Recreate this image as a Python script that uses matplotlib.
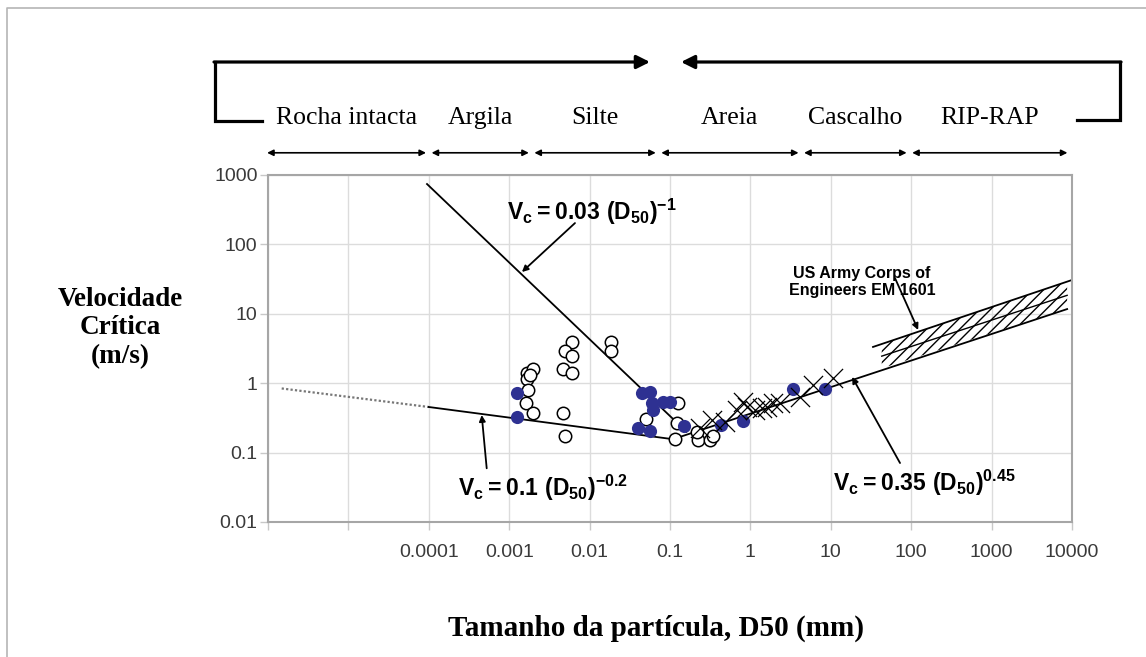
import numpy as np
import matplotlib
matplotlib.use('Agg')
import matplotlib.pyplot as plt
from matplotlib.lines import Line2D
from matplotlib.transforms import blended_transform_factory

W, H = 1146, 657
plt.rcParams['mathtext.fontset'] = 'custom'
plt.rcParams['mathtext.rm'] = 'Liberation Sans'
plt.rcParams['mathtext.bf'] = 'Liberation Sans:bold'
plt.rcParams['hatch.linewidth'] = 1.0

# classes granulometricas e seus limites (mm)
classes = ['Rocha intacta', 'Argila', 'Silte', 'Areia', 'Cascalho', 'RIP-RAP']
limites = [9e-7, 1e-4, 1.9e-3, 0.072, 4.3, 95, 9.5e3]

# retas de velocidade critica: D50 (mm) x Vc (m/s)
reta_menos1_D = [9.5e-5, 0.16]
reta_menos1_V = [741, 0.2]
reta_pont_D = [1.48e-6, 1e-4]
reta_pont_V = [0.84, 0.454]
reta_menos02_D = [1e-4, 0.109]
reta_menos02_V = [0.454, 0.156]
reta_045_D = [0.109, 8700]
reta_045_V = [0.156, 11.7]

# faixa US Army Corps of Engineers EM 1601
faixa_D = [43, 8700]
faixa_inf = [1.64, 11.7]
faixa_sup = [3.67, 29.1]
borda_sup_D = [33.5, 1e4]
borda_sup_V = [3.33, 30.7]

# ensaios
aberto_D = [0.00165, 0.0020, 0.00165, 0.0018, 0.00173, 0.00162, 0.0020,
            0.0060, 0.0049, 0.0060, 0.0047, 0.0060, 0.0047, 0.0049,
            0.0183, 0.0183, 0.127, 0.050, 0.121, 0.115, 0.225, 0.315,
            0.215, 0.346]
aberto_V = [1.42, 1.58, 1.14, 1.3, 0.80, 0.52, 0.376,
            3.96, 2.94, 2.46, 1.58, 1.39, 0.376, 0.173,
            3.96, 2.94, 0.52, 0.302, 0.264, 0.156, 0.152, 0.152,
            0.20, 0.173]
cheio_D = [0.00124, 0.00126, 0.0445, 0.0564, 0.0592, 0.0826, 0.1, 0.0619,
           0.0404, 0.0564, 0.149, 0.429, 0.81, 3.42, 8.36]
cheio_V = [0.715, 0.33, 0.715, 0.755, 0.513, 0.541, 0.541, 0.411,
           0.224, 0.205, 0.245, 0.25, 0.29, 0.817, 0.817]
cruz_D = [0.236, 0.333, 0.483, 0.676, 0.817, 0.90, 1.14, 1.38, 1.60,
          1.93, 2.33, 4.14, 6.05, 10.7]
cruz_V = [0.226, 0.295, 0.279, 0.411, 0.541, 0.458, 0.411, 0.435, 0.458,
          0.513, 0.513, 0.638, 0.94, 1.2]

xticks = [10.0 ** k for k in range(-6, 5)]
xlabels = ['', '', '0.0001', '0.001', '0.01', '0.1', '1', '10', '100', '1000', '10000']
yticks = [0.01, 0.1, 1, 10, 100, 1000]
ylabels = ['0.01', '0.1', '1', '10', '100', '1000']

fig = plt.figure(figsize=(W / 100, H / 100), dpi=100)
ax = fig.add_axes([268 / W, 135 / H, 804 / W, 347 / H])
ax.set_xscale('log')
ax.set_yscale('log')
ax.set_xlim(1e-6, 1e4)
ax.set_ylim(0.01, 1000)
ax.set_xticks(xticks)
ax.set_xticklabels(xlabels)
ax.set_yticks(yticks)
ax.set_yticklabels(ylabels)
ax.minorticks_off()
ax.grid(True, color='#dcdcdc', lw=1)
ax.set_axisbelow(True)
for s in ax.spines.values():
    s.set_color('#a6a6a6')
    s.set_linewidth(1.5)
ax.tick_params(length=6, width=1, color='#c8c8c8', labelsize=14,
               labelcolor='#3a3a3a', labelfontfamily='Liberation Sans')
ax.tick_params(axis='x', pad=10)
ax.tick_params(axis='y', pad=1.5)

# retas
ax.plot(reta_menos1_D, reta_menos1_V, color='black', lw=1.3, zorder=2)
ax.plot(reta_pont_D, reta_pont_V, color='#777777', lw=1.6, ls=(0, (1, 1)), zorder=2)
ax.plot(reta_menos02_D, reta_menos02_V, color='black', lw=1.3, zorder=2)
ax.plot(reta_045_D, reta_045_V, color='black', lw=1.3, zorder=2)

# faixa hachurada
poly_D = faixa_D + faixa_D[::-1]
poly_V = faixa_inf + faixa_sup[::-1]
ax.fill(poly_D, poly_V, facecolor='none', edgecolor='black', hatch='///', lw=0, zorder=2)
ax.plot(borda_sup_D, borda_sup_V, color='black', lw=1.3, zorder=2)
ax.plot(faixa_D, np.sqrt(np.array(faixa_inf) * np.array(faixa_sup)), color='black', lw=1.0, zorder=2)

# pontos
ax.scatter(aberto_D, aberto_V, s=80, facecolor='white', edgecolor='black', lw=1.1, zorder=3)
ax.scatter(cheio_D, cheio_V, s=90, color='#2e3192', lw=0, zorder=4)
ax.scatter(cruz_D, cruz_V, s=190, marker='x', color='black', lw=0.9, zorder=5)

# equacoes e setas
eq_kw = dict(fontsize=16.5, ha='left', va='center', zorder=6)
ax.text(9.4e-4, 293, r'$\mathbf{V_c = 0.03\ (D_{50})^{-1}}$', **eq_kw)
ax.text(2.3e-4, 0.031, r'$\mathbf{V_c = 0.1\ (D_{50})^{-0.2}}$', **eq_kw)
ax.text(10.6, 0.0365, r'$\mathbf{V_c = 0.35\ (D_{50})^{0.45}}$', **eq_kw)
ax.text(24.4, 28.7, 'US Army Corps of\nEngineers EM 1601', fontsize=11.5,
        fontweight='bold', fontfamily='Liberation Sans', ha='center', va='center',
        linespacing=1.15, zorder=6)
seta = dict(arrowstyle='-|>', color='black', lw=1.3, mutation_scale=9, shrinkA=0, shrinkB=0)
ax.annotate('', xy=(1.44e-3, 40), xytext=(6.58e-3, 203), arrowprops=seta)
ax.annotate('', xy=(4.55e-4, 0.348), xytext=(5.25e-4, 0.0594), arrowprops=seta)
ax.annotate('', xy=(18.4, 1.23), xytext=(72.6, 0.0708), arrowprops=seta)
ax.annotate('', xy=(122, 5.85), xytext=(62.8, 32.8), arrowprops=seta)

# faixas granulometricas acima do grafico
trans = blended_transform_factory(ax.transData, ax.transAxes)
for nome, a, b in zip(classes, limites[:-1], limites[1:]):
    ax.annotate('', xy=(b, 1.064), xytext=(a, 1.064), xycoords=trans, textcoords=trans,
                arrowprops=dict(arrowstyle='<|-|>', color='black', lw=1.2,
                                mutation_scale=9, shrinkA=2, shrinkB=2),
                annotation_clip=False)
    ax.text(np.sqrt(a * b), 1.164, nome, transform=trans, ha='center', va='center',
            fontfamily='Liberation Serif', fontsize=18.5)


def px(x, y):
    return (x / W, 1 - y / H)


# colchete superior
def linha(pts, **kw):
    xs, ys = zip(*[px(x, y) for x, y in pts])
    fig.add_artist(Line2D(xs, ys, transform=fig.transFigure, **kw))


linha([(262, 121), (215, 121), (215, 62)], color='black', lw=2.3, solid_joinstyle='miter')
linha([(1077, 120), (1120, 120), (1120, 62)], color='black', lw=2.3, solid_joinstyle='miter')
grossa = dict(arrowstyle='-|>', color='black', lw=2.3, mutation_scale=20, shrinkA=0, shrinkB=0)
fig.add_artist(plt.Annotation('', xy=px(650, 62), xytext=px(214, 62),
                              xycoords='figure fraction', textcoords='figure fraction',
                              arrowprops=grossa))
fig.add_artist(plt.Annotation('', xy=px(681, 62), xytext=px(1121, 62),
                              xycoords='figure fraction', textcoords='figure fraction',
                              arrowprops=grossa))

# moldura
linha([(7, 657), (7, 8), (1146, 8)], color='#b5b5b5', lw=1.2)

fig.text(*px(120, 328), 'Velocidade\nCrítica\n(m/s)', ha='center', va='center',
         fontfamily='Liberation Serif', fontweight='bold', fontsize=19.5, linespacing=1.2)
fig.text(*px(656, 628), 'Tamanho da partícula, D50 (mm)', ha='center', va='center',
         fontfamily='Liberation Serif', fontweight='bold', fontsize=21)

fig.savefig('out.png', dpi=100)
